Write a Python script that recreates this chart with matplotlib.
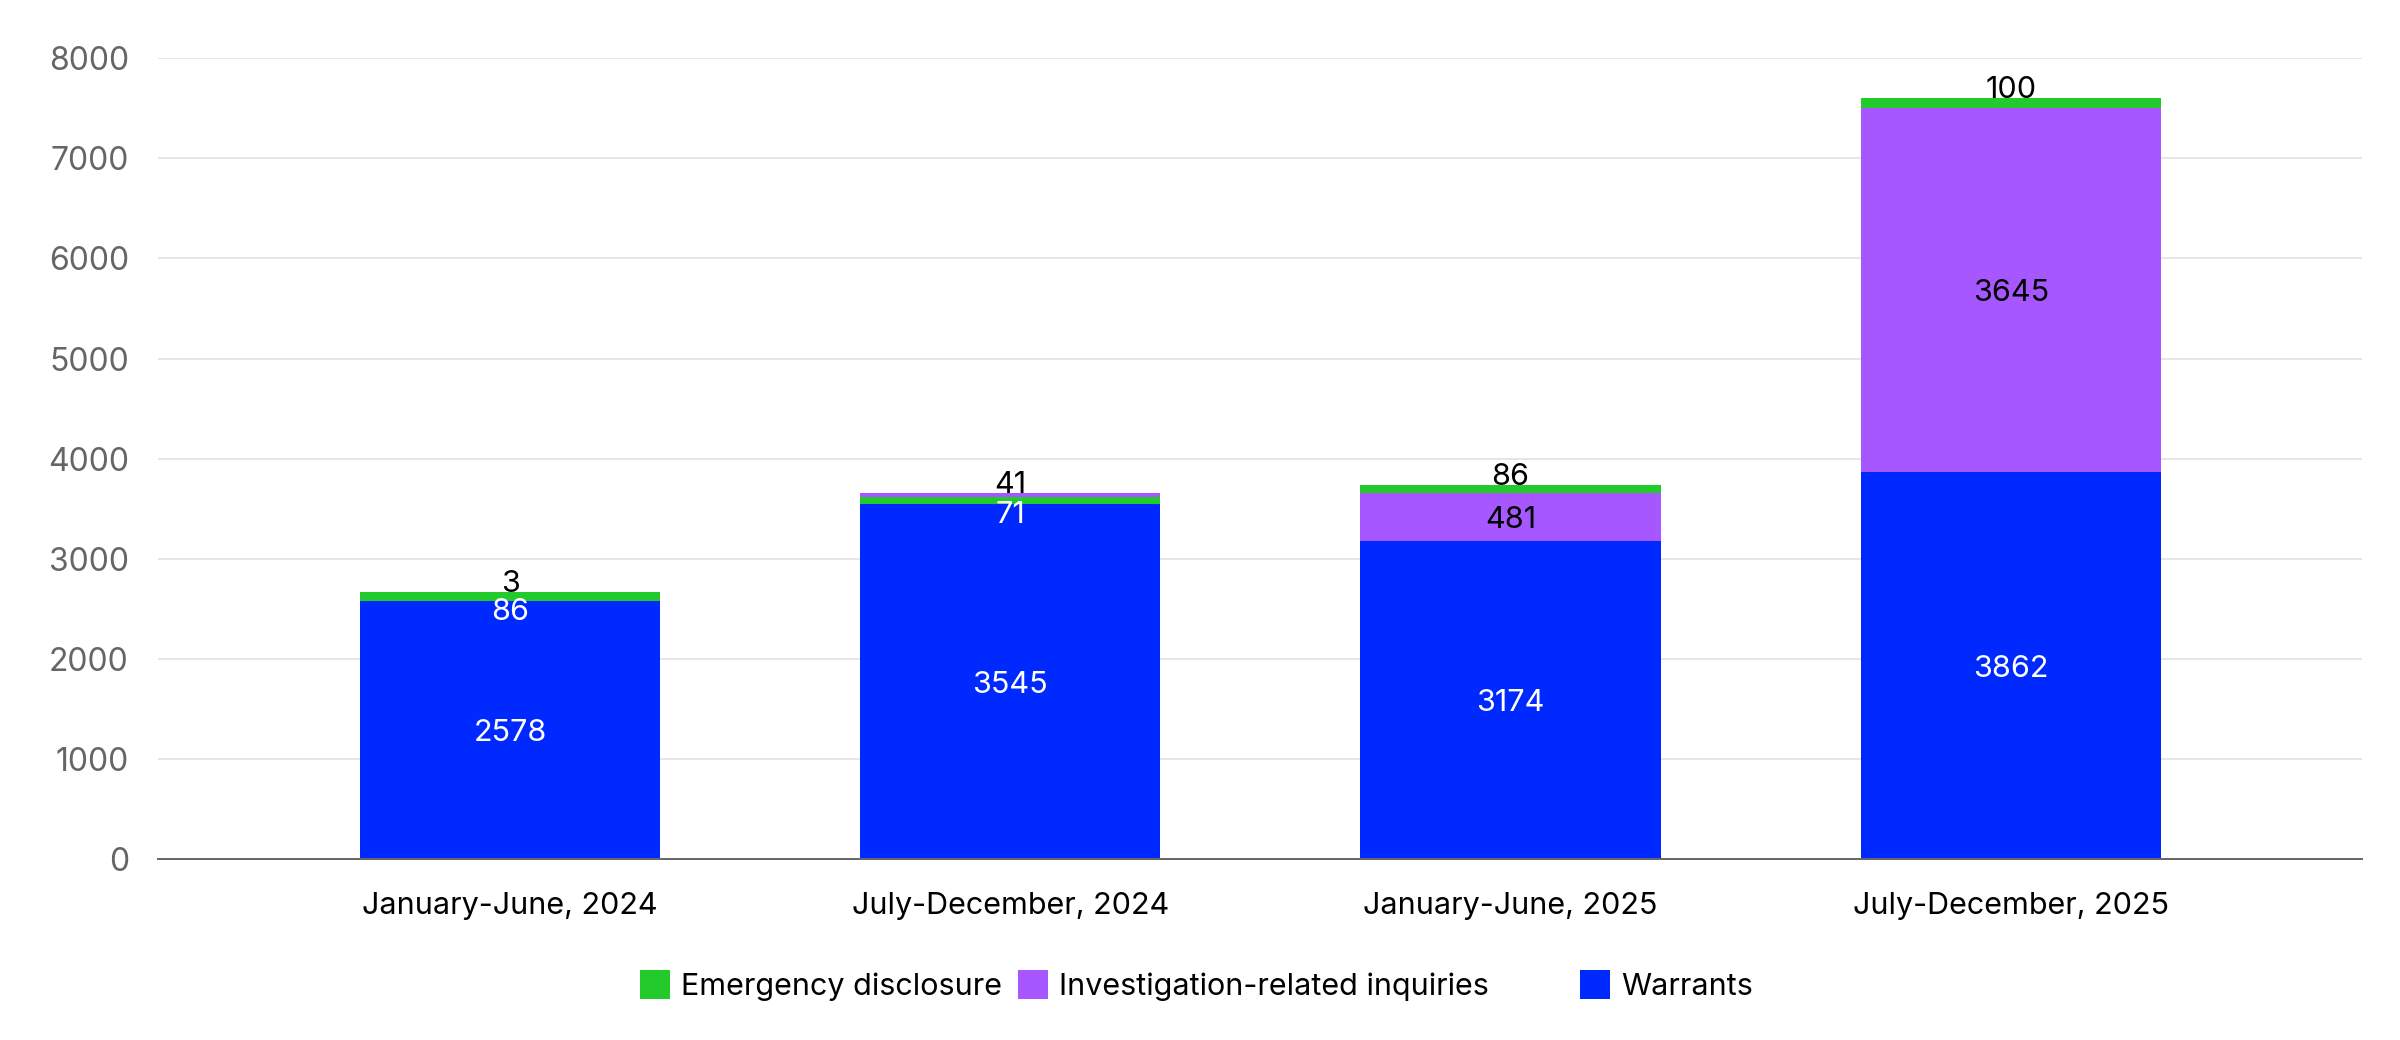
import numpy as np
import matplotlib.pyplot as plt
from matplotlib.patches import Rectangle

plt.rcParams['font.family'] = ['Inter', 'DejaVu Sans']

periods = ['January-June, 2024', 'July-December, 2024', 'January-June, 2025', 'July-December, 2025']
warrants = [2578, 3545, 3174, 3862]
investigation = [3, 41, 481, 3645]
emergency = [86, 71, 86, 100]

series_names = ['Warrants', 'Investigation-related inquiries', 'Emergency disclosure']
series_vals = [warrants, investigation, emergency]
colors = {'Warrants': '#0029ff', 'Investigation-related inquiries': '#a757ff', 'Emergency disclosure': '#22cb2b'}

fig = plt.figure(figsize=(24, 10.4), dpi=100)
ax = fig.add_axes([0.0658, 0.174, 0.9183, 0.770])

x = np.arange(len(periods))
width = 0.6
fs = 22

for i in range(len(periods)):
	# warrants always at the bottom, the rest stacked largest first
	ax.bar(x[i], warrants[i], width, bottom=0, color=colors['Warrants'], linewidth=0)
	ax.annotate(str(warrants[i]), (x[i], warrants[i] / 2), xytext=(0, -3), textcoords='offset pixels',
		ha='center', va='center', color='white', fontsize=fs)
	bottom = warrants[i]
	others = [(series_vals[1][i], series_names[1]), (series_vals[2][i], series_names[2])]
	others.sort(key=lambda t: -t[0])
	top = warrants[i] + sum(v for v, n in others)
	for k, (v, name) in enumerate(others):
		ax.bar(x[i], v, width, bottom=bottom, color=colors[name], linewidth=0)
		if k == len(others) - 1 and v < 200:
			# thin top segment: label sits just above the bar
			ax.annotate(str(v), (x[i], top), xytext=(0, 8), textcoords='offset pixels',
				ha='center', va='center', fontsize=fs, color='black')
		elif v < 200:
			# thin lower segment: label pushed down onto the blue bar
			ax.annotate(str(v), (x[i], bottom), xytext=(0, -11), textcoords='offset pixels',
				ha='center', va='center', fontsize=fs, color='white')
		else:
			ax.annotate(str(v), (x[i], bottom + v / 2), xytext=(0, -3), textcoords='offset pixels',
				ha='center', va='center', fontsize=fs, color='black')
		bottom += v

ax.set_xlim(-0.704, 3.702)
ax.set_ylim(0, 8000)
ax.set_yticks(np.arange(0, 8001, 1000))
ax.set_xticks(x)
ax.set_xticklabels(periods, fontsize=fs, color='black')
ax.tick_params(axis='y', labelsize=23, labelcolor='#666666', length=0, pad=21)
ax.tick_params(axis='x', length=0, pad=24)
ax.grid(True, axis='y', color='#e2e2e2', linewidth=1.2)
ax.set_axisbelow(True)
for s in ['top', 'right', 'left']:
	ax.spines[s].set_visible(False)
ax.spines['bottom'].set_color('#666666')
ax.spines['bottom'].set_linewidth(1.4)

# legend drawn by hand to get the uneven spacing
legend_items = [('Emergency disclosure', 640), ('Investigation-related inquiries', 1018), ('Warrants', 1580)]
W, H = 2400.0, 1040.0
for name, px in legend_items:
	fig.patches.append(Rectangle((px / W, 1 - 999 / H), 30 / W, 29 / H, transform=fig.transFigure,
		color=colors[name], linewidth=0))
	fig.text((px + 41) / W, 1 - 987 / H, name, ha='left', va='center', fontsize=fs, color='black')

fig.savefig('out.png', dpi=100)
